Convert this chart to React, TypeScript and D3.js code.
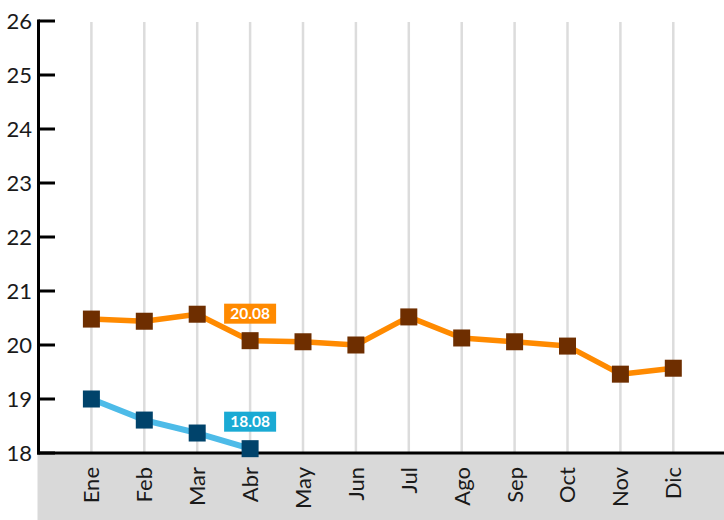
import React from "react";
import * as d3 from "d3";

const months = ["Ene", "Feb", "Mar", "Abr", "May", "Jun", "Jul", "Ago", "Sep", "Oct", "Nov", "Dic"];
const seriesA = [20.48, 20.44, 20.57, 20.08, 20.06, 20.0, 20.52, 20.13, 20.06, 19.98, 19.46, 19.57];
const seriesB = [19.0, 18.61, 18.37, 18.08];
const yTicks = [18, 19, 20, 21, 22, 23, 24, 25, 26];
const labelA = { index: 3, text: "20.08" };
const labelB = { index: 3, text: "18.08" };

const W = 724;
const H = 520;
const FONT = "Lato, 'Open Sans', sans-serif";

export default function App() {
  const x = d3.scalePoint<string>().domain(months).range([91.4, 673.3]);
  const y = d3.scaleLinear().domain([18, 26]).range([453, 21]);
  const axisX = 38.5;

  const lineA = d3
    .line<number>()
    .x((_, i) => x(months[i])!)
    .y((d) => y(d));

  const orangeLine = "#ff8a00";
  const orangeMarker = "#6e2e00";
  const blueLine = "#4dbbe8";
  const blueMarker = "#00436b";
  const ms = 17;

  const renderLabel = (idx: number, val: number, text: string, bg: string) => {
    const cx = x(months[idx])!;
    const cy = y(val) - 27;
    return (
      <g>
        <rect x={cx - 26} y={cy - 10} width={52} height={20} fill={bg} />
        <text
          x={cx}
          y={cy}
          dy="0.36em"
          textAnchor="middle"
          fill="#fff"
          fontWeight={700}
          fontSize={15.5}
          fontFamily={FONT}
        >
          {text}
        </text>
      </g>
    );
  };

  return (
    <div style={{ position: "fixed", left: 0, top: 0 }}>
      <svg width={W} height={H} style={{ display: "block", background: "#fff" }}>
        {/* gray category band */}
        <rect x={axisX - 1} y={454} width={W - axisX + 1} height={H - 454} fill="#d9d9d9" />
        {/* grid lines */}
        {months.map((m) => (
          <line key={m} x1={x(m)} x2={x(m)} y1={22} y2={453} stroke="#dcdcdc" strokeWidth={2.5} />
        ))}
        {/* y axis */}
        <line x1={axisX} x2={axisX} y1={y(26) - 1.5} y2={y(18) + 1.5} stroke="#000" strokeWidth={3} />
        {yTicks.map((t) => (
          <g key={t}>
            <line x1={axisX} x2={55} y1={y(t)} y2={y(t)} stroke="#000" strokeWidth={3} />
            <text
              x={32}
              y={y(t)}
              dy="0.36em"
              textAnchor="end"
              fontSize={22}
              fontFamily={FONT}
              fill="#1a1a1a"
            >
              {t}
            </text>
          </g>
        ))}
        {/* x axis */}
        <line x1={axisX - 1.5} x2={W} y1={y(18)} y2={y(18)} stroke="#000" strokeWidth={3} />
        {months.map((m) => (
          <text
            key={m}
            transform={`translate(${x(m)},467) rotate(-90)`}
            dy="0.36em"
            textAnchor="end"
            fontSize={22}
            fontFamily={FONT}
            fill="#1a1a1a"
          >
            {m}
          </text>
        ))}
        {/* series lines */}
        <path d={lineA(seriesA) || ""} fill="none" stroke={orangeLine} strokeWidth={5.5} strokeLinejoin="round" />
        <path d={lineA(seriesB) || ""} fill="none" stroke={blueLine} strokeWidth={6} strokeLinejoin="round" />
        {seriesA.map((v, i) => (
          <rect key={"a" + i} x={x(months[i])! - ms / 2} y={y(v) - ms / 2} width={ms} height={ms} fill={orangeMarker} />
        ))}
        {seriesB.map((v, i) => (
          <rect key={"b" + i} x={x(months[i])! - ms / 2} y={y(v) - ms / 2} width={ms} height={ms} fill={blueMarker} />
        ))}
        {renderLabel(labelA.index, seriesA[labelA.index], labelA.text, "#ff8a00")}
        {renderLabel(labelB.index, seriesB[labelB.index], labelB.text, "#1aaad4")}
      </svg>
    </div>
  );
}
